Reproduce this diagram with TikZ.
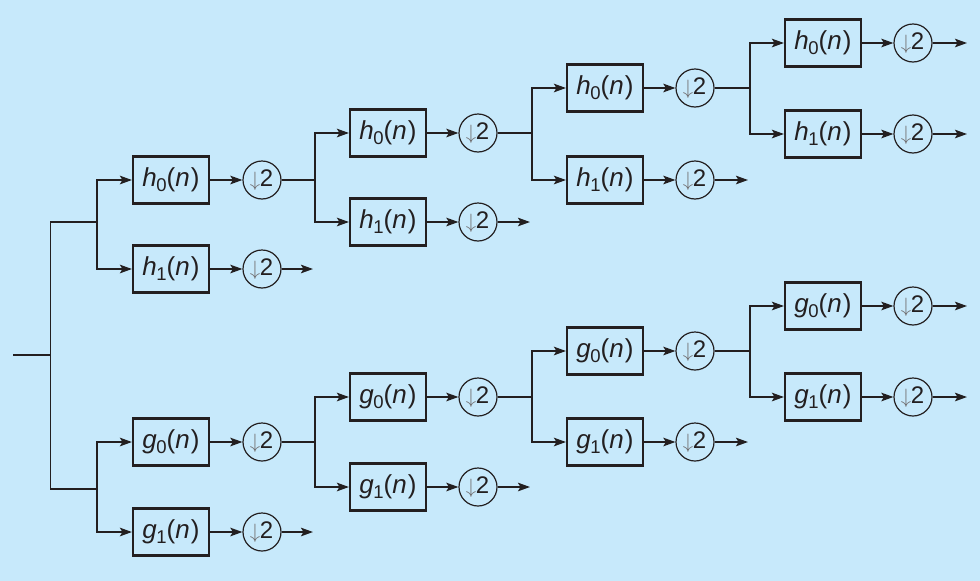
\documentclass[tikz,border=0pt]{standalone}
\usepackage{fontspec}
\setmainfont{Liberation Sans}
\usetikzlibrary{arrows.meta}
\definecolor{bg}{RGB}{199,233,251}
\definecolor{ink}{RGB}{35,31,32}
\newcommand{\flab}[2]{\fontsize{26}{26}\selectfont\textit{#1}\kern-0.5pt\raisebox{-5pt}{\fontsize{18.5}{18.5}\selectfont #2}(\textit{n}\kern1pt)}
\newcommand{\dlab}{\kern-1pt{\fontsize{20}{20}\selectfont\color{ink!65}$\downarrow$}\kern-0.5pt{\fontsize{24}{24}\selectfont 2}}
\begin{document}
\begin{tikzpicture}[x=1pt,y=-1pt,
  filt/.style={draw=ink, line width=2.1pt, minimum width=76pt, minimum height=47pt, inner sep=0pt, text=ink},
  dec/.style={circle, draw=ink, line width=1.2pt, minimum size=38pt, inner sep=0pt, text=ink},
  wire/.style={draw=ink, line width=1.9pt},
  arr/.style={wire, -{Stealth[length=12pt,width=8.5pt,inset=2.5pt]}}]
\fill[bg] (0,0) rectangle (980,581);
\useasboundingbox (0,0) rectangle (980,581);

% ---------- nodes: top (h) tree ----------
\node[filt] (H1a) at (171,180) {\flab{h}{0}};
\node[dec]  (D1a) at (262,180) {\dlab};
\node[filt] (H1b) at (171,269) {\flab{h}{1}};
\node[dec]  (D1b) at (262,269) {\dlab};
\node[filt] (H2a) at (388,133) {\flab{h}{0}};
\node[dec]  (D2a) at (478,133) {\dlab};
\node[filt] (H2b) at (388,222) {\flab{h}{1}};
\node[dec]  (D2b) at (478,222) {\dlab};
\node[filt] (H3a) at (605,88) {\flab{h}{0}};
\node[dec]  (D3a) at (695,88) {\dlab};
\node[filt] (H3b) at (605,180) {\flab{h}{1}};
\node[dec]  (D3b) at (695,180) {\dlab};
\node[filt] (H4a) at (823,43) {\flab{h}{0}};
\node[dec]  (D4a) at (913,43) {\dlab};
\node[filt] (H4b) at (823,134) {\flab{h}{1}};
\node[dec]  (D4b) at (913,134) {\dlab};

% ---------- nodes: bottom (g) tree ----------
\node[filt] (G1a) at (171,442) {\flab{g}{0}};
\node[dec]  (E1a) at (262,442) {\dlab};
\node[filt] (G1b) at (171,532) {\flab{g}{1}};
\node[dec]  (E1b) at (262,532) {\dlab};
\node[filt] (G2a) at (388,397) {\flab{g}{0}};
\node[dec]  (E2a) at (478,397) {\dlab};
\node[filt] (G2b) at (388,487) {\flab{g}{1}};
\node[dec]  (E2b) at (478,487) {\dlab};
\node[filt] (G3a) at (605,351) {\flab{g}{0}};
\node[dec]  (E3a) at (695,351) {\dlab};
\node[filt] (G3b) at (605,442) {\flab{g}{1}};
\node[dec]  (E3b) at (695,442) {\dlab};
\node[filt] (G4a) at (823,306) {\flab{g}{0}};
\node[dec]  (E4a) at (913,306) {\dlab};
\node[filt] (G4b) at (823,397) {\flab{g}{1}};
\node[dec]  (E4b) at (913,397) {\dlab};

% ---------- branch points and free ends ----------
\coordinate (in) at (13,355);
\coordinate (r)  at (50.5,355);
\coordinate (rt) at (50.5,222);
\coordinate (rb) at (50.5,489);
\coordinate (t1) at (97,222);
\coordinate (t2) at (315,180);
\coordinate (t3) at (532,133);
\coordinate (t4) at (750,88);
\coordinate (s1) at (97,489);
\coordinate (s2) at (315,442);
\coordinate (s3) at (532,397);
\coordinate (s4) at (750,351);
\coordinate (o1) at (313,269);
\coordinate (o2) at (530,222);
\coordinate (o3) at (748,180);
\coordinate (o4) at (967,43);
\coordinate (o5) at (967,134);
\coordinate (p1) at (313,532);
\coordinate (p2) at (530,487);
\coordinate (p3) at (748,442);
\coordinate (p4) at (967,306);
\coordinate (p5) at (967,397);

% ---------- root ----------
\draw[wire] (in) -- (r);
\draw[wire] (t1) -- (rt) -- (rb) -- (s1);

% ---------- top tree wires ----------
\draw[arr] (t1) |- (H1a.west);
\draw[arr] (t1) |- (H1b.west);
\draw[arr] (H1a) -- (D1a);
\draw[arr] (H1b) -- (D1b);
\draw[arr] (D1b) -- (o1);
\draw[wire] (D1a) -- (t2);
\draw[arr] (t2) |- (H2a.west);
\draw[arr] (t2) |- (H2b.west);
\draw[arr] (H2a) -- (D2a);
\draw[arr] (H2b) -- (D2b);
\draw[arr] (D2b) -- (o2);
\draw[wire] (D2a) -- (t3);
\draw[arr] (t3) |- (H3a.west);
\draw[arr] (t3) |- (H3b.west);
\draw[arr] (H3a) -- (D3a);
\draw[arr] (H3b) -- (D3b);
\draw[arr] (D3b) -- (o3);
\draw[wire] (D3a) -- (t4);
\draw[arr] (t4) |- (H4a.west);
\draw[arr] (t4) |- (H4b.west);
\draw[arr] (H4a) -- (D4a);
\draw[arr] (H4b) -- (D4b);
\draw[arr] (D4a) -- (o4);
\draw[arr] (D4b) -- (o5);

% ---------- bottom tree wires ----------
\draw[arr] (s1) |- (G1a.west);
\draw[arr] (s1) |- (G1b.west);
\draw[arr] (G1a) -- (E1a);
\draw[arr] (G1b) -- (E1b);
\draw[arr] (E1b) -- (p1);
\draw[wire] (E1a) -- (s2);
\draw[arr] (s2) |- (G2a.west);
\draw[arr] (s2) |- (G2b.west);
\draw[arr] (G2a) -- (E2a);
\draw[arr] (G2b) -- (E2b);
\draw[arr] (E2b) -- (p2);
\draw[wire] (E2a) -- (s3);
\draw[arr] (s3) |- (G3a.west);
\draw[arr] (s3) |- (G3b.west);
\draw[arr] (G3a) -- (E3a);
\draw[arr] (G3b) -- (E3b);
\draw[arr] (E3b) -- (p3);
\draw[wire] (E3a) -- (s4);
\draw[arr] (s4) |- (G4a.west);
\draw[arr] (s4) |- (G4b.west);
\draw[arr] (G4a) -- (E4a);
\draw[arr] (G4b) -- (E4b);
\draw[arr] (E4a) -- (p4);
\draw[arr] (E4b) -- (p5);
\end{tikzpicture}
\end{document}
